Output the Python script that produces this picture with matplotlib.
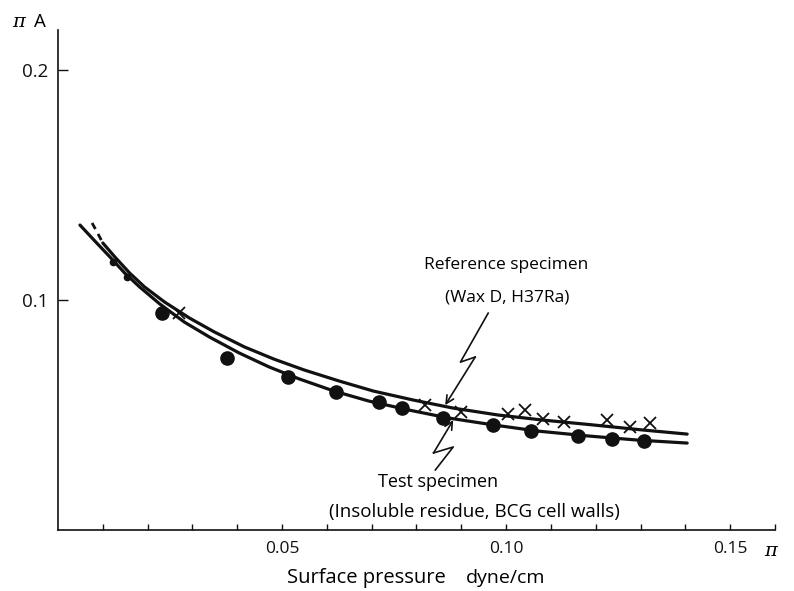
import numpy as np
import matplotlib
matplotlib.use("Agg")
import matplotlib.pyplot as plt

# ---------------------------
# Data
# ---------------------------
# Test specimen (filled dots)
test_pi = [0.0233, 0.0378, 0.0513, 0.0620, 0.0716, 0.0767, 0.0860, 0.0971,
           0.1056, 0.1160, 0.1236, 0.1307]
test_piA = [0.0943, 0.0748, 0.0665, 0.0600, 0.0557, 0.0530, 0.0487, 0.0457,
            0.0430, 0.0409, 0.0396, 0.0387]

# faint blobs on the curves at the top-left
test_early_pi = [0.0122, 0.0153]
test_early_piA = [0.1165, 0.1100]

# Reference specimen (crosses)
ref_pi = [0.0271, 0.0820, 0.0900, 0.1004, 0.1042, 0.1082, 0.1129, 0.1224,
          0.1276, 0.1320]
ref_piA = [0.0943, 0.0543, 0.0513, 0.0504, 0.0522, 0.0483, 0.0470, 0.0478,
           0.0448, 0.0465]

# Drawn curves (traced)
test_curve_pi = [0.0049, 0.0082, 0.0116, 0.0149, 0.0182, 0.0227, 0.0282,
                 0.0338, 0.0404, 0.0471, 0.0538, 0.0616, 0.0693, 0.0782,
                 0.0871, 0.0971, 0.1071, 0.1182, 0.1293, 0.1404]
test_curve_piA = [0.1326, 0.1257, 0.1187, 0.1117, 0.1057, 0.0983, 0.0904,
                  0.0839, 0.0770, 0.0709, 0.0657, 0.0604, 0.0561, 0.0522,
                  0.0487, 0.0457, 0.0430, 0.0409, 0.0391, 0.0378]

ref_curve_pi = [0.0076, 0.0087, 0.0100, 0.0127, 0.0160, 0.0193, 0.0238,
                0.0293, 0.0349, 0.0416, 0.0482, 0.0549, 0.0627, 0.0704,
                0.0793, 0.0882, 0.0982, 0.1082, 0.1193, 0.1304, 0.1404]
ref_curve_piA = [0.1335, 0.1296, 0.1248, 0.1187, 0.1117, 0.1057, 0.0991,
                 0.0922, 0.0861, 0.0796, 0.0743, 0.0696, 0.0648, 0.0604,
                 0.0565, 0.0530, 0.0500, 0.0478, 0.0457, 0.0435, 0.0417]

x_ticks = [0.01, 0.02, 0.03, 0.04, 0.05, 0.06, 0.07, 0.08, 0.09, 0.10,
           0.11, 0.12, 0.13, 0.14, 0.15, 0.16]
x_tick_labels = ["", "", "", "", "0.05", "", "", "", "", "0.10",
                 "", "", "", "", "0.15", ""]
y_ticks = [0.1, 0.2]
y_tick_labels = ["0.1", "0.2"]

# ---------------------------
# Figure
# ---------------------------
plt.rcParams["font.family"] = ["Open Sans", "DejaVu Sans"]
plt.rcParams["mathtext.fontset"] = "dejavuserif"

W, H = 794, 591
fig = plt.figure(figsize=(W / 100, H / 100), dpi=100)
ax = fig.add_axes([58 / W, 1 - 530 / H, (775 - 58) / W, 500 / H])
ax.set_xlim(0, 0.1593)
ax.set_ylim(0, 0.2174)

ink = "#111111"

# curves; the reference curve starts with a short broken stroke
ax.plot(test_curve_pi, test_curve_piA, color=ink, lw=2.3, solid_capstyle="round")
ax.plot(ref_curve_pi[:3], ref_curve_piA[:3], color=ink, lw=2.0, ls=(0, (2.5, 2)))
ax.plot(ref_curve_pi[2:], ref_curve_piA[2:], color=ink, lw=2.3, solid_capstyle="round")

ax.plot(test_pi, test_piA, "o", color=ink, ms=9.5, mec=ink)
ax.plot(test_early_pi, test_early_piA, "o", color=ink, ms=4.5)
ax.plot(ref_pi, ref_piA, "x", color=ink, ms=9, mew=1.3)

# lightning-style pointers
ref_arrow = [(0.0960, 0.0943), (0.0898, 0.0730), (0.0931, 0.0752)]
ax.plot(*zip(*ref_arrow), color=ink, lw=1.2)
ax.annotate("", xy=(0.0864, 0.0543), xytext=ref_arrow[-1],
            arrowprops=dict(arrowstyle="->", color=ink, lw=1.2,
                            shrinkA=0, shrinkB=0, mutation_scale=14))

test_arrow = [(0.0842, 0.0261), (0.0882, 0.0361), (0.0838, 0.0335)]
ax.plot(*zip(*test_arrow), color=ink, lw=1.2)
ax.annotate("", xy=(0.0882, 0.0478), xytext=test_arrow[-1],
            arrowprops=dict(arrowstyle="->", color=ink, lw=1.2,
                            shrinkA=0, shrinkB=0, mutation_scale=14))

ax.text(0.1000, 0.1152, "Reference specimen", ha="center", va="center", fontsize=12.5)
ax.text(0.1003, 0.1013, "(Wax D, H37Ra)", ha="center", va="center", fontsize=12.5)
ax.text(0.0849, 0.0209, "Test specimen", ha="center", va="center", fontsize=13)
ax.text(0.0929, 0.0078, "(Insoluble residue, BCG cell walls)", ha="center",
        va="center", fontsize=13.5)

# axes styling
for s in ["top", "right"]:
    ax.spines[s].set_visible(False)
for s in ["left", "bottom"]:
    ax.spines[s].set_linewidth(1.2)
    ax.spines[s].set_color(ink)

ax.set_xticks(x_ticks)
ax.set_xticklabels(x_tick_labels)
ax.set_yticks(y_ticks)
ax.set_yticklabels(y_tick_labels)
ax.tick_params(axis="x", direction="in", length=4, width=1.0, pad=8,
               labelsize=12.5, colors=ink)
ax.tick_params(axis="y", direction="in", length=7, width=1.0, pad=7,
               labelsize=13.5, colors=ink)

fig.text(12 / W, 1 - 22 / H, r"$\pi$", fontsize=14, va="center", ha="left")
fig.text(34 / W, 1 - 22 / H, "A", fontsize=13.5, va="center", ha="left")
fig.text(772 / W, 1 - 551 / H, r"$\pi$", fontsize=14, va="center", ha="center")
fig.text(366 / W, 1 - 578 / H, "Surface pressure", fontsize=14.5, va="center", ha="center")
fig.text(506 / W, 1 - 578 / H, "dyne/cm", fontsize=14, va="center", ha="center")

fig.savefig("out.png", dpi=100)
